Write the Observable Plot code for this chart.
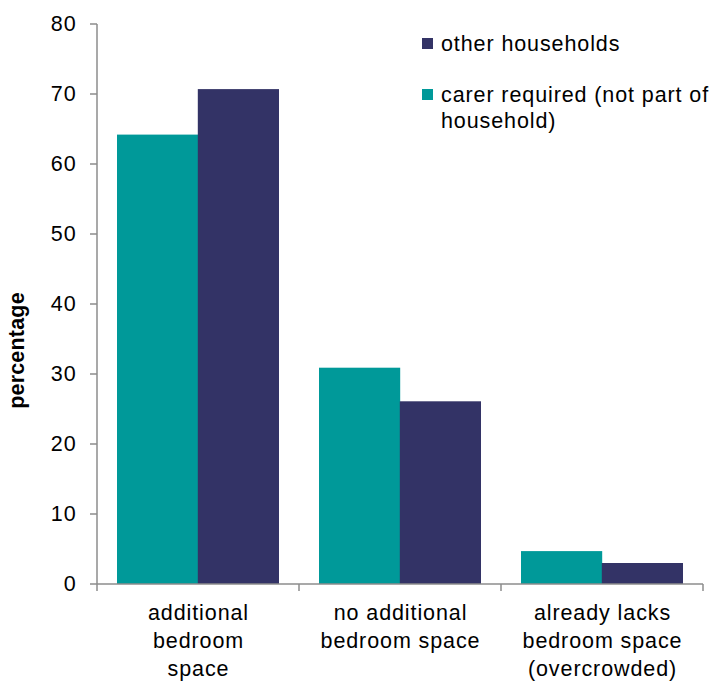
<!DOCTYPE html>
<html>
<head>
<meta charset="utf-8">
<script src="https://cdn.jsdelivr.net/npm/d3@7"></script>
<script src="https://cdn.jsdelivr.net/npm/@observablehq/plot@0.6"></script>
<style>
  html, body { margin: 0; padding: 0; background: #fff; }
  #wrap { position: relative; width: 713px; height: 684px; font-family: "Liberation Sans", Arial, sans-serif; }
  .legend { position: absolute; left: 422px; top: 0; font-size: 21.5px; line-height: 26px; letter-spacing: 0.9px; color: #000; }
  .item { position: absolute; left: 0; white-space: nowrap; }
  .sw { position: absolute; left: 0; width: 11px; height: 11px; }
  .lab { position: absolute; left: 19px; }
</style>
</head>
<body>
<div id="wrap"></div>
<script>
// ---- data ----
const categories = ["additional bedroom space", "no additional bedroom space", "already lacks bedroom space (overcrowded)"];
const categoryLabels = ["additional\nbedroom\nspace", "no additional\nbedroom space", "already lacks\nbedroom space\n(overcrowded)"];
const seriesNames = ["carer required (not part of household)", "other households"];
const carerValues = [64.2, 30.9, 4.7];
const otherValues = [70.7, 26.1, 3.0];
const yTicks = [0, 10, 20, 30, 40, 50, 60, 70, 80];
const seriesColors = ["#009999", "#333366"];

// ---- layout ----
const W = 713, H = 684;
const mL = 97, mR = 10, mT = 24, mB = 100;
const padInner = 0.2, padOuter = 0.1;
const axisColor = "#8c8c8c";
const step = (W - mL - mR) / (categories.length - padInner + 2 * padOuter);
const halfBand = step * (1 - padInner) / 2;

const carerData = categories.map((c, i) => ({category: c, value: carerValues[i], series: seriesNames[0]}));
const otherData = categories.map((c, i) => ({category: c, value: otherValues[i], series: seriesNames[1]}));

function axisLines(index, scales) {
  const x = scales.x, y = scales.y;
  const bw = typeof x.bandwidth === "function" ? x.bandwidth() : halfBand * 2;
  const st = typeof x.step === "function" ? x.step() : (x(categories[1]) - x(categories[0]));
  const gap = st - bw;
  const bounds = categories.map(c => x(c) - gap / 2);
  bounds.push(x(categories[categories.length - 1]) + bw + gap / 2);
  const g = d3.create("svg:g").attr("stroke", axisColor).attr("stroke-width", 1.5).attr("fill", "none");
  g.append("line").attr("x1", bounds[0]).attr("x2", bounds[0])
    .attr("y1", y(yTicks[0])).attr("y2", y(yTicks[yTicks.length - 1]));
  yTicks.forEach(t => g.append("line").attr("x1", bounds[0] - 7).attr("x2", bounds[0]).attr("y1", y(t)).attr("y2", y(t)));
  g.append("line").attr("x1", bounds[0]).attr("x2", bounds[bounds.length - 1]).attr("y1", y(0)).attr("y2", y(0));
  bounds.forEach(b => g.append("line").attr("x1", b).attr("x2", b).attr("y1", y(0)).attr("y2", y(0) + 7));
  return g.node();
}

const chart = Plot.plot({
  width: W,
  height: H,
  marginLeft: mL,
  marginRight: mR,
  marginTop: mT,
  marginBottom: mB,
  style: {fontFamily: "'Liberation Sans', Arial, sans-serif", color: "#000", background: "#fff", letterSpacing: "0.9px"},
  x: {domain: categories, paddingInner: padInner, paddingOuter: padOuter, axis: null},
  y: {domain: [0, 80], axis: null},
  marks: [
    Plot.barY(carerData, {x: "category", y: "value", fill: seriesColors[0], insetRight: halfBand}),
    Plot.barY(otherData, {x: "category", y: "value", fill: seriesColors[1], insetLeft: halfBand}),
    axisLines,
    Plot.axisY({ticks: yTicks, tickSize: 0, tickPadding: 21, fontSize: 21.5, label: null}),
    Plot.axisX({tickSize: 0, tickPadding: 15, fontSize: 21.5, lineHeight: 1.32, label: null,
      tickFormat: d => categoryLabels[categories.indexOf(d)]}),
    Plot.text(["percentage"], {frameAnchor: "left", textAnchor: "middle", rotate: -90, dx: -80, dy: 46, fontWeight: "bold", fontSize: 21.5})
  ]
});

d3.select(chart).selectAll("text")
  .filter(function() { return this.textContent === "percentage"; })
  .style("letter-spacing", "0.2px");

const wrap = document.getElementById("wrap");
wrap.appendChild(chart);

// legend (order as in reference: other households first)
const legend = document.createElement("div");
legend.className = "legend";
const legendItems = [
  {label: seriesNames[1], color: seriesColors[1], top: 31},
  {label: "carer required (not part of<br>household)", color: seriesColors[0], top: 82}
];
legendItems.forEach(it => {
  const d = document.createElement("div");
  d.className = "item";
  d.style.top = it.top + "px";
  d.innerHTML = `<span class="sw" style="background:${it.color};top:7px"></span><span class="lab">${it.label}</span>`;
  legend.appendChild(d);
});
wrap.appendChild(legend);
</script>
</body>
</html>
